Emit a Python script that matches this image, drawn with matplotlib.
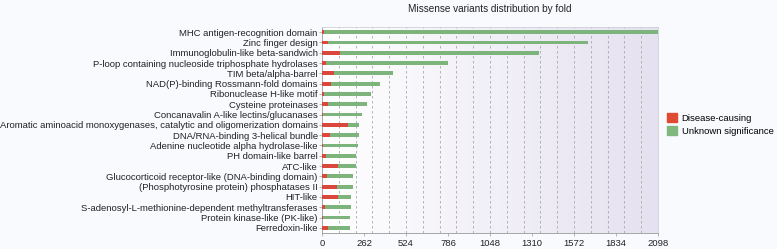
import matplotlib
matplotlib.use("Agg")
import matplotlib.pyplot as plt
import numpy as np
from matplotlib.patches import Patch

categories = [
    "MHC antigen-recognition domain",
    "Zinc finger design",
    "Immunoglobulin-like beta-sandwich",
    "P-loop containing nucleoside triphosphate hydrolases",
    "TIM beta/alpha-barrel",
    "NAD(P)-binding Rossmann-fold domains",
    "Ribonuclease H-like motif",
    "Cysteine proteinases",
    "Concanavalin A-like lectins/glucanases",
    "Aromatic aminoacid monoxygenases, catalytic and oligomerization domains",
    "DNA/RNA-binding 3-helical bundle",
    "Adenine nucleotide alpha hydrolase-like",
    "PH domain-like barrel",
    "ATC-like",
    "Glucocorticoid receptor-like (DNA-binding domain)",
    "(Phosphotyrosine protein) phosphatases II",
    "HIT-like",
    "S-adenosyl-L-methionine-dependent methyltransferases",
    "Protein kinase-like (PK-like)",
    "Ferredoxin-like",
]
disease = [12, 38, 111, 28, 73, 56, 15, 36, 5, 163, 48, 4, 25, 102, 31, 94, 98, 19, 4, 36]
totals = [2098, 1662, 1352, 784, 441, 360, 307, 282, 249, 230, 230, 226, 213, 211, 194, 194, 182, 178, 174, 174]
unknown = [t - d for t, d in zip(totals, disease)]
xmax = 2098
tick_labels = ["0", "262", "524", "786", "1048", "1310", "1572", "1834", "2098"]

plt.rcParams['font.family'] = ['Liberation Sans', 'DejaVu Sans']

fig = plt.figure(figsize=(7.77, 2.49), dpi=100)
fig.patch.set_facecolor("#f8fafd")
ax = fig.add_axes([322/777, 1-233/249, (658-322)/777, (233-27)/249])

# gradient background
grad = np.linspace(0, 1, 256)
c0 = np.array([1.0, 1.0, 1.0])
c1 = np.array([0.898, 0.882, 0.941])
img = c0[None, :] + (c1 - c0)[None, :] * grad[:, None]
ax.imshow(img[None, :, :], extent=[0, xmax, -0.5, len(categories) - 0.5],
          aspect='auto', zorder=0)

y = np.arange(len(categories))
h = 0.36
ax.barh(y, disease, height=h, color="#d9483b", zorder=3)
ax.barh(y, unknown, left=disease, height=h, color="#7db47c", zorder=3)

for gx in np.linspace(0, xmax, 21)[1:-1]:
    ax.axvline(gx, color="#a8a8b0", lw=0.6, ls=(0, (3, 3)), zorder=1)

ax.set_xlim(0, xmax)
ax.set_ylim(len(categories) - 0.5, -0.5)
ax.set_yticks(y)
ax.set_yticklabels(categories, fontsize=6.8, color="#222222")
ax.set_xticks(np.linspace(0, xmax, 9))
ax.set_xticklabels(tick_labels, fontsize=6.8, color="#222222")
ax.tick_params(axis='y', length=2, width=0.5, color="#999999", pad=1)
ax.tick_params(axis='x', length=2, width=0.5, color="#999999", pad=2)
for s in ax.spines.values():
    s.set_color("#cfcfd8")
    s.set_linewidth(0.6)
ax.spines['left'].set_color("#999999")
ax.spines['bottom'].set_color("#999999")

ax.set_title("Missense variants distribution by fold", fontsize=7.2, color="#222222", pad=11)

handles = [Patch(color="#e04a33", label="Disease-causing"),
           Patch(color="#7fb77e", label="Unknown significance")]
fig.legend(handles=handles, loc="center left", bbox_to_anchor=(658/777, 0.5),
           frameon=False, fontsize=6.8, handlelength=1.1, handleheight=1.1,
           handletextpad=0.5, labelspacing=0.4)

fig.savefig("out.png", dpi=100, facecolor=fig.get_facecolor())
